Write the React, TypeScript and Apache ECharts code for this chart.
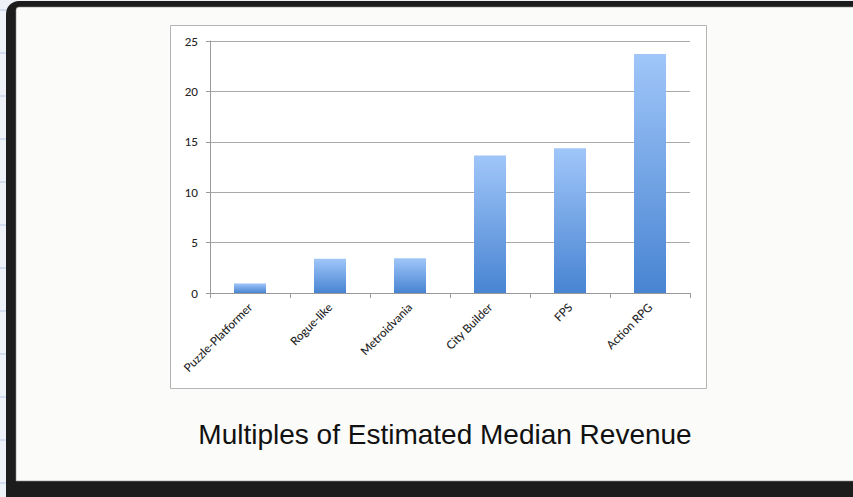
import React, { useEffect, useRef } from "react";
import * as echarts from "echarts";

const categories = ["Puzzle-Platformer", "Rogue-like", "Metroidvania", "City Builder", "FPS", "Action RPG"];
const values = [0.95, 3.4, 3.45, 13.65, 14.35, 23.7];
const yTicks = [0, 5, 10, 15, 20, 25];
const titleText = "Multiples of Estimated Median Revenue";

export default function App() {
  const ref = useRef<HTMLDivElement>(null);
  useEffect(() => {
    document.body.style.margin = "0";
    const chart = echarts.init(ref.current!, null, { renderer: "svg" });
    const stripLines: any[] = [];
    for (let i = 0; i < 12; i++) {
      stripLines.push({
        type: "line",
        z: -9,
        shape: { x1: 0, y1: 10 + i * 43, x2: 6, y2: 10 + i * 43 },
        style: { stroke: "#b8c8e6", lineWidth: 1 },
      });
    }
    chart.setOption({
      animation: false,
      backgroundColor: "#eef2f8",
      grid: { left: 210, right: 163, top: 41, bottom: 204, containLabel: false },
      xAxis: {
        type: "category",
        data: categories,
        axisLine: { show: true, lineStyle: { color: "#9a9a9a", width: 1 } },
        axisTick: { show: true, length: 5, lineStyle: { color: "#9a9a9a" } },
        axisLabel: {
          rotate: 45,
          margin: 12,
          fontFamily: "Lato",
          fontSize: 11.6,
          fontWeight: 500,
          color: "#262626",
        },
      },
      yAxis: {
        type: "value",
        min: yTicks[0],
        max: yTicks[yTicks.length - 1],
        interval: 5,
        axisLine: { show: true, lineStyle: { color: "#9a9a9a", width: 1 } },
        axisTick: { show: true, length: 4, lineStyle: { color: "#9a9a9a" } },
        axisLabel: { margin: 12, fontFamily: "Lato", fontSize: 11.5, fontWeight: 500, color: "#262626" },
        splitLine: { show: true, lineStyle: { color: "#a8a8a8", width: 1 } },
      },
      series: [
        {
          type: "bar",
          data: values,
          barWidth: "40%",
          itemStyle: {
            color: new echarts.graphic.LinearGradient(0, 0, 0, 1, [
              { offset: 0, color: "#a0c6f9" },
              { offset: 1, color: "#4884d2" },
            ]),
          },
        },
      ],
      graphic: [
        ...stripLines,
        {
          type: "rect",
          z: -8,
          shape: { x: 6, y: 1, width: 900, height: 520, r: [13, 0, 0, 13] },
          style: { fill: "#1c1c1c" },
        },
        {
          type: "rect",
          z: -7,
          shape: { x: 16, y: 7, width: 900, height: 474, r: [3, 0, 0, 0] },
          style: { fill: "#fbfbf9", stroke: "#8a8a8a", lineWidth: 0.6 },
        },
        {
          type: "rect",
          z: -6,
          shape: { x: 170.5, y: 25.5, width: 536, height: 363 },
          style: { fill: "#ffffff", stroke: "#b4b4b4", lineWidth: 1 },
        },
        {
          type: "text",
          z: 10,
          x: 445,
          y: 434,
          style: {
            text: titleText,
            fontFamily: "Liberation Sans",
            fontSize: 28,
            fill: "#111",
            align: "center",
            verticalAlign: "middle",
          },
        },
      ],
    });
    return () => chart.dispose();
  }, []);
  return <div ref={ref} style={{ width: 853, height: 497 }} />;
}
